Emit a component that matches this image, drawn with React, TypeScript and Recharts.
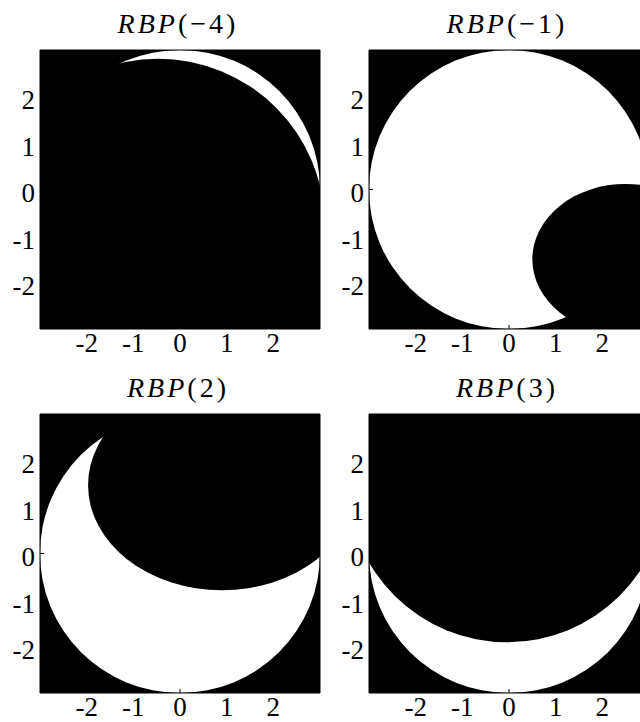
import React from "react";
import { ScatterChart, XAxis, YAxis, ReferenceArea } from "recharts";

// parameter shown in each panel title, left-to-right, top-to-bottom
const rbpParams = ["−4", "−1", "2", "3"];
const axisTicks = [-2, -1, 0, 1, 2];
const axisMin = -3;
const axisMax = 3;

// white disk |z| <= 3, same in every panel
const diskCx = [0, 0, 0, 0];
const diskCy = [0, 0, 0, 0];
const diskR = [3, 3, 3, 3];

// black region cut out of the disk (ellipse: centre + half-axes, data units)
const holeCx = [-0.47, 2.5, 0.9, -0.04];
const holeCy = [-0.76, -1.5, 1.47, 1.5];
const holeRx = [3.57, 2.0, 2.87, 3.41];
const holeRy = [3.57, 1.62, 2.26, 3.41];

const FONT = "'Liberation Serif', 'Times New Roman', serif";
const PLOT_W = 280;
const PLOT_H = 279;
const Y_AXIS_W = 40;
const X_AXIS_H = 40;
const panelLeft = [40, 369, 40, 369];
const panelTop = [50, 50, 414, 414];

/** ReferenceArea shape: ellipse inscribed in the area's rectangle */
function EllipseShape(props: any) {
  const { x, y, width, height, fill, clipPath } = props;
  return (
    <ellipse
      cx={x + width / 2}
      cy={y + height / 2}
      rx={Math.abs(width) / 2}
      ry={Math.abs(height) / 2}
      fill={fill}
      fillOpacity={1}
      stroke="none"
      clipPath={clipPath}
    />
  );
}

function XTick({ x, y, payload }: any) {
  return (
    <text x={x} y={y + 22.5} textAnchor="middle" fontSize={27} fontFamily={FONT} fill="#000">
      {String(payload.value)}
    </text>
  );
}

function YTick({ x, y, payload }: any) {
  return (
    <text x={x} y={y + 12.5} textAnchor="end" fontSize={27} fontFamily={FONT} fill="#000">
      {String(payload.value)}
    </text>
  );
}

function Panel({ i }: { i: number }) {
  const left = panelLeft[i];
  const top = panelTop[i];
  return (
    <>
      {/* 제목 */}
      <svg
        width={PLOT_W + 40}
        height={45}
        style={{ position: "absolute", left: left - 20, top: top - 45, overflow: "visible" }}
      >
        <text
          x={(PLOT_W + 40) / 2 - 2}
          y={45 - 17.5}
          textAnchor="middle"
          fontSize={28}
          fontFamily={FONT}
          letterSpacing={3}
          fill="#000"
        >
          <tspan fontStyle="italic">RBP</tspan>
          <tspan>({rbpParams[i]})</tspan>
        </text>
      </svg>

      {/* 위쪽/오른쪽 거울 축은 1px 두께 → 차트를 1px 위로 */}
      <div style={{ position: "absolute", left: left - Y_AXIS_W, top: top - 1 }}>
        <ScatterChart
          width={Y_AXIS_W + PLOT_W + 1}
          height={PLOT_H + X_AXIS_H + 1}
          margin={{ top: 0, right: 0, bottom: 0, left: 0 }}
        >
          <XAxis
            type="number"
            dataKey="x"
            domain={[axisMin, axisMax]}
            ticks={axisTicks}
            allowDataOverflow
            axisLine={false}
            tickSize={-4}
            tickMargin={4}
            tickLine={{ stroke: "#000" }}
            tick={<XTick />}
            height={X_AXIS_H}
            interval={0}
          />
          <XAxis
            xAxisId="top"
            orientation="top"
            type="number"
            dataKey="x"
            domain={[axisMin, axisMax]}
            ticks={axisTicks}
            allowDataOverflow
            axisLine={false}
            tickSize={-4}
            tickLine={{ stroke: "#000" }}
            tick={false}
            height={1}
            interval={0}
          />
          <YAxis
            type="number"
            dataKey="y"
            domain={[axisMin, axisMax]}
            ticks={axisTicks}
            allowDataOverflow
            axisLine={false}
            tickSize={-4}
            tickMargin={9}
            tickLine={{ stroke: "#000" }}
            tick={<YTick />}
            width={Y_AXIS_W}
            interval={0}
          />
          <YAxis
            yAxisId="right"
            orientation="right"
            type="number"
            dataKey="y"
            domain={[axisMin, axisMax]}
            ticks={axisTicks}
            allowDataOverflow
            axisLine={false}
            tickSize={-4}
            tickLine={{ stroke: "#000" }}
            tick={false}
            width={1}
            interval={0}
          />

          {/* 배경 */}
          <ReferenceArea
            x1={axisMin}
            x2={axisMax}
            y1={axisMin}
            y2={axisMax}
            fill="#000"
            fillOpacity={1}
            stroke="none"
            ifOverflow="hidden"
          />
          {/* 흰 원판 */}
          <ReferenceArea
            x1={diskCx[i] - diskR[i]}
            x2={diskCx[i] + diskR[i]}
            y1={diskCy[i] - diskR[i]}
            y2={diskCy[i] + diskR[i]}
            fill="#fff"
            ifOverflow="hidden"
            shape={EllipseShape}
          />
          {/* 검은 영역 */}
          <ReferenceArea
            x1={holeCx[i] - holeRx[i]}
            x2={holeCx[i] + holeRx[i]}
            y1={holeCy[i] - holeRy[i]}
            y2={holeCy[i] + holeRy[i]}
            fill="#000"
            ifOverflow="hidden"
            shape={EllipseShape}
          />
          {/* 상자 테두리 */}
          <ReferenceArea
            x1={axisMin}
            x2={axisMax}
            y1={axisMin}
            y2={axisMax}
            fill="none"
            stroke="#000"
            strokeWidth={1}
            ifOverflow="visible"
          />
        </ScatterChart>
      </div>
    </>
  );
}

export default function App() {
  return (
    <div
      style={{
        position: "absolute",
        left: 0,
        top: 0,
        width: 640,
        height: 722,
        background: "#fff",
        overflow: "hidden",
      }}
    >
      {rbpParams.map((_, i) => (
        <Panel key={i} i={i} />
      ))}
    </div>
  );
}
